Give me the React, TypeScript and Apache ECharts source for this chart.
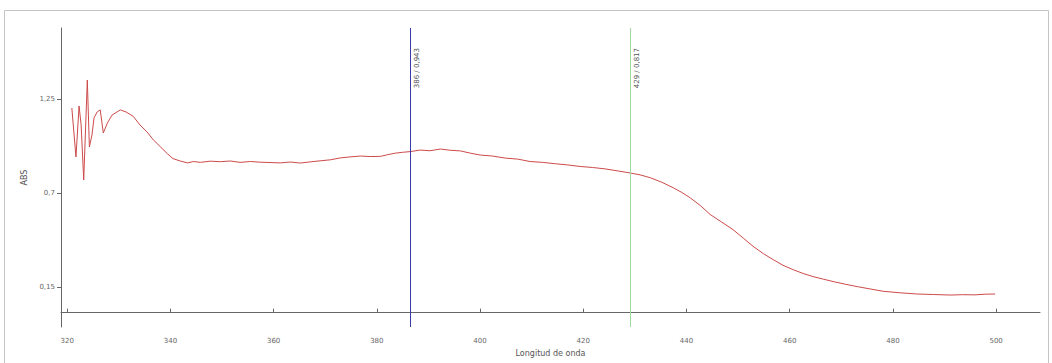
import React, { useEffect, useRef } from "react";
import * as echarts from "echarts";

// Wavelength (nm)
const wavelengths: number[] = [
  320.9, 321.7, 322.3, 322.7, 323.2, 323.9, 324.3, 324.8, 325.2, 325.8, 326.4, 327.0, 327.8, 328.7,
  330.3, 331.4, 332.8, 334.1, 335.5, 336.7, 338.0, 339.4, 340.5, 341.9, 343.3, 344.5, 345.8, 347.7,
  349.7, 351.6, 353.5, 355.5, 357.4, 359.3, 361.3, 363.2, 365.2, 367.1, 369.0, 371.0, 372.9, 374.8,
  376.8, 378.7, 380.7, 382.1, 383.6, 385.0, 386.5, 388.4, 390.3, 392.3, 394.2, 396.2, 398.1, 400.0,
  402.4, 404.9, 407.3, 409.7, 412.1, 414.6, 417.0, 419.4, 421.8, 424.2, 426.7, 429.1, 431.0, 433.0,
  435.2, 437.4, 439.1, 440.7, 442.7, 444.6, 446.8, 449.0, 451.0, 452.9, 454.9, 456.8, 458.7, 460.7,
  462.6, 464.5, 466.5, 468.4, 470.8, 473.3, 475.7, 478.1, 481.4, 484.7, 487.9, 491.1, 493.5, 495.9,
  497.9, 499.8,
];

// Absorbance
const absorbance: number[] = [
  1.197, 0.911, 1.209, 1.098, 0.776, 1.361, 0.969, 1.039, 1.139, 1.174, 1.186, 1.051, 1.11, 1.156,
  1.186, 1.174, 1.148, 1.098, 1.056, 1.01, 0.972, 0.93, 0.901, 0.887, 0.876, 0.884, 0.879, 0.886,
  0.883, 0.887, 0.879, 0.884, 0.88, 0.878, 0.876, 0.881, 0.875, 0.882, 0.888, 0.894, 0.905, 0.911,
  0.916, 0.913, 0.914, 0.924, 0.933, 0.938, 0.942, 0.951, 0.947, 0.957, 0.95, 0.946, 0.933, 0.922,
  0.916, 0.904, 0.898, 0.884, 0.879, 0.871, 0.864, 0.855, 0.849, 0.841, 0.829, 0.817, 0.806, 0.789,
  0.763, 0.731, 0.703, 0.672, 0.626, 0.574, 0.53, 0.486, 0.436, 0.388, 0.345, 0.31, 0.277, 0.251,
  0.229, 0.211, 0.196, 0.182, 0.166, 0.151, 0.138, 0.125, 0.116, 0.109, 0.106, 0.103, 0.105, 0.104,
  0.108, 0.109,
];

const xTickValues: number[] = [320, 340, 360, 380, 400, 420, 440, 460, 480, 500];
const yTickValues: number[] = [0.15, 0.7, 1.25];
const yTickLabels: string[] = ["0,15", "0,7", "1,25"];

const markers: { x: number; label: string; color: string }[] = [
  { x: 386.5, label: "386 / 0,943", color: "#3a3aa8" },
  { x: 429.1, label: "429 / 0,817", color: "#9ed89e" },
];

export default function App() {
  const ref = useRef<HTMLDivElement>(null);
  useEffect(() => {
    if (!ref.current) return;
    const chart = echarts.init(ref.current, undefined, { renderer: "svg" });
    const data = wavelengths.map((w, i) => [w, absorbance[i]]);
    chart.setOption({
      animation: false,
      backgroundColor: "#ffffff",
      textStyle: { fontFamily: "DejaVu Sans" },
      graphic: [
        {
          type: "rect",
          shape: { x: 4.5, y: 10.5, width: 1044, height: 360 },
          style: { fill: "none", stroke: "#c4c4c4", lineWidth: 1 },
          silent: true,
        },
      ],
      grid: { left: 61, right: 12, top: 28, bottom: 36 },
      xAxis: {
        type: "value",
        min: 318.8,
        max: 508.5,
        name: "Longitud de onda",
        nameLocation: "middle",
        nameGap: 22,
        nameTextStyle: { fontSize: 8, color: "#555" },
        axisLine: { show: true, lineStyle: { color: "#666", width: 1 } },
        axisTick: {
          show: true,
          inside: true,
          length: 4,
          customValues: xTickValues,
          lineStyle: { color: "#666" },
        },
        axisLabel: {
          customValues: xTickValues,
          fontSize: 7,
          color: "#666",
          margin: 10,
        },
        splitLine: { show: false },
      },
      yAxis: {
        type: "value",
        min: -0.084,
        max: 1.665,
        name: "ABS",
        nameLocation: "middle",
        nameGap: 33,
        nameRotate: 90,
        nameTextStyle: { fontSize: 8, color: "#555" },
        axisLine: { show: true, lineStyle: { color: "#666", width: 1 } },
        axisTick: {
          show: true,
          length: 4,
          customValues: yTickValues,
          lineStyle: { color: "#666" },
        },
        axisLabel: {
          customValues: yTickValues,
          fontSize: 7,
          color: "#666",
          margin: 6,
          formatter: (v: number) => {
            const i = yTickValues.findIndex((t) => Math.abs(t - v) < 1e-6);
            return i >= 0 ? yTickLabels[i] : "";
          },
        },
        splitLine: { show: false },
      },
      series: [
        {
          type: "line",
          data,
          showSymbol: false,
          lineStyle: { color: "#cc4a4a", width: 1 },
          markLine: {
            silent: true,
            symbol: "none",
            data: markers.map((m) => ({
              xAxis: m.x,
              lineStyle: { color: m.color, width: 1, type: "solid" },
              label: {
                show: true,
                formatter: m.label,
                position: "insideEndBottom",
                distance: [20, 3],
                fontSize: 7,
                color: "#555",
              },
            })),
          },
        },
      ],
    });
    return () => chart.dispose();
  }, []);
  return (
    <div
      ref={ref}
      style={{ position: "fixed", left: 0, top: 0, width: 1052, height: 363 }}
    />
  );
}
